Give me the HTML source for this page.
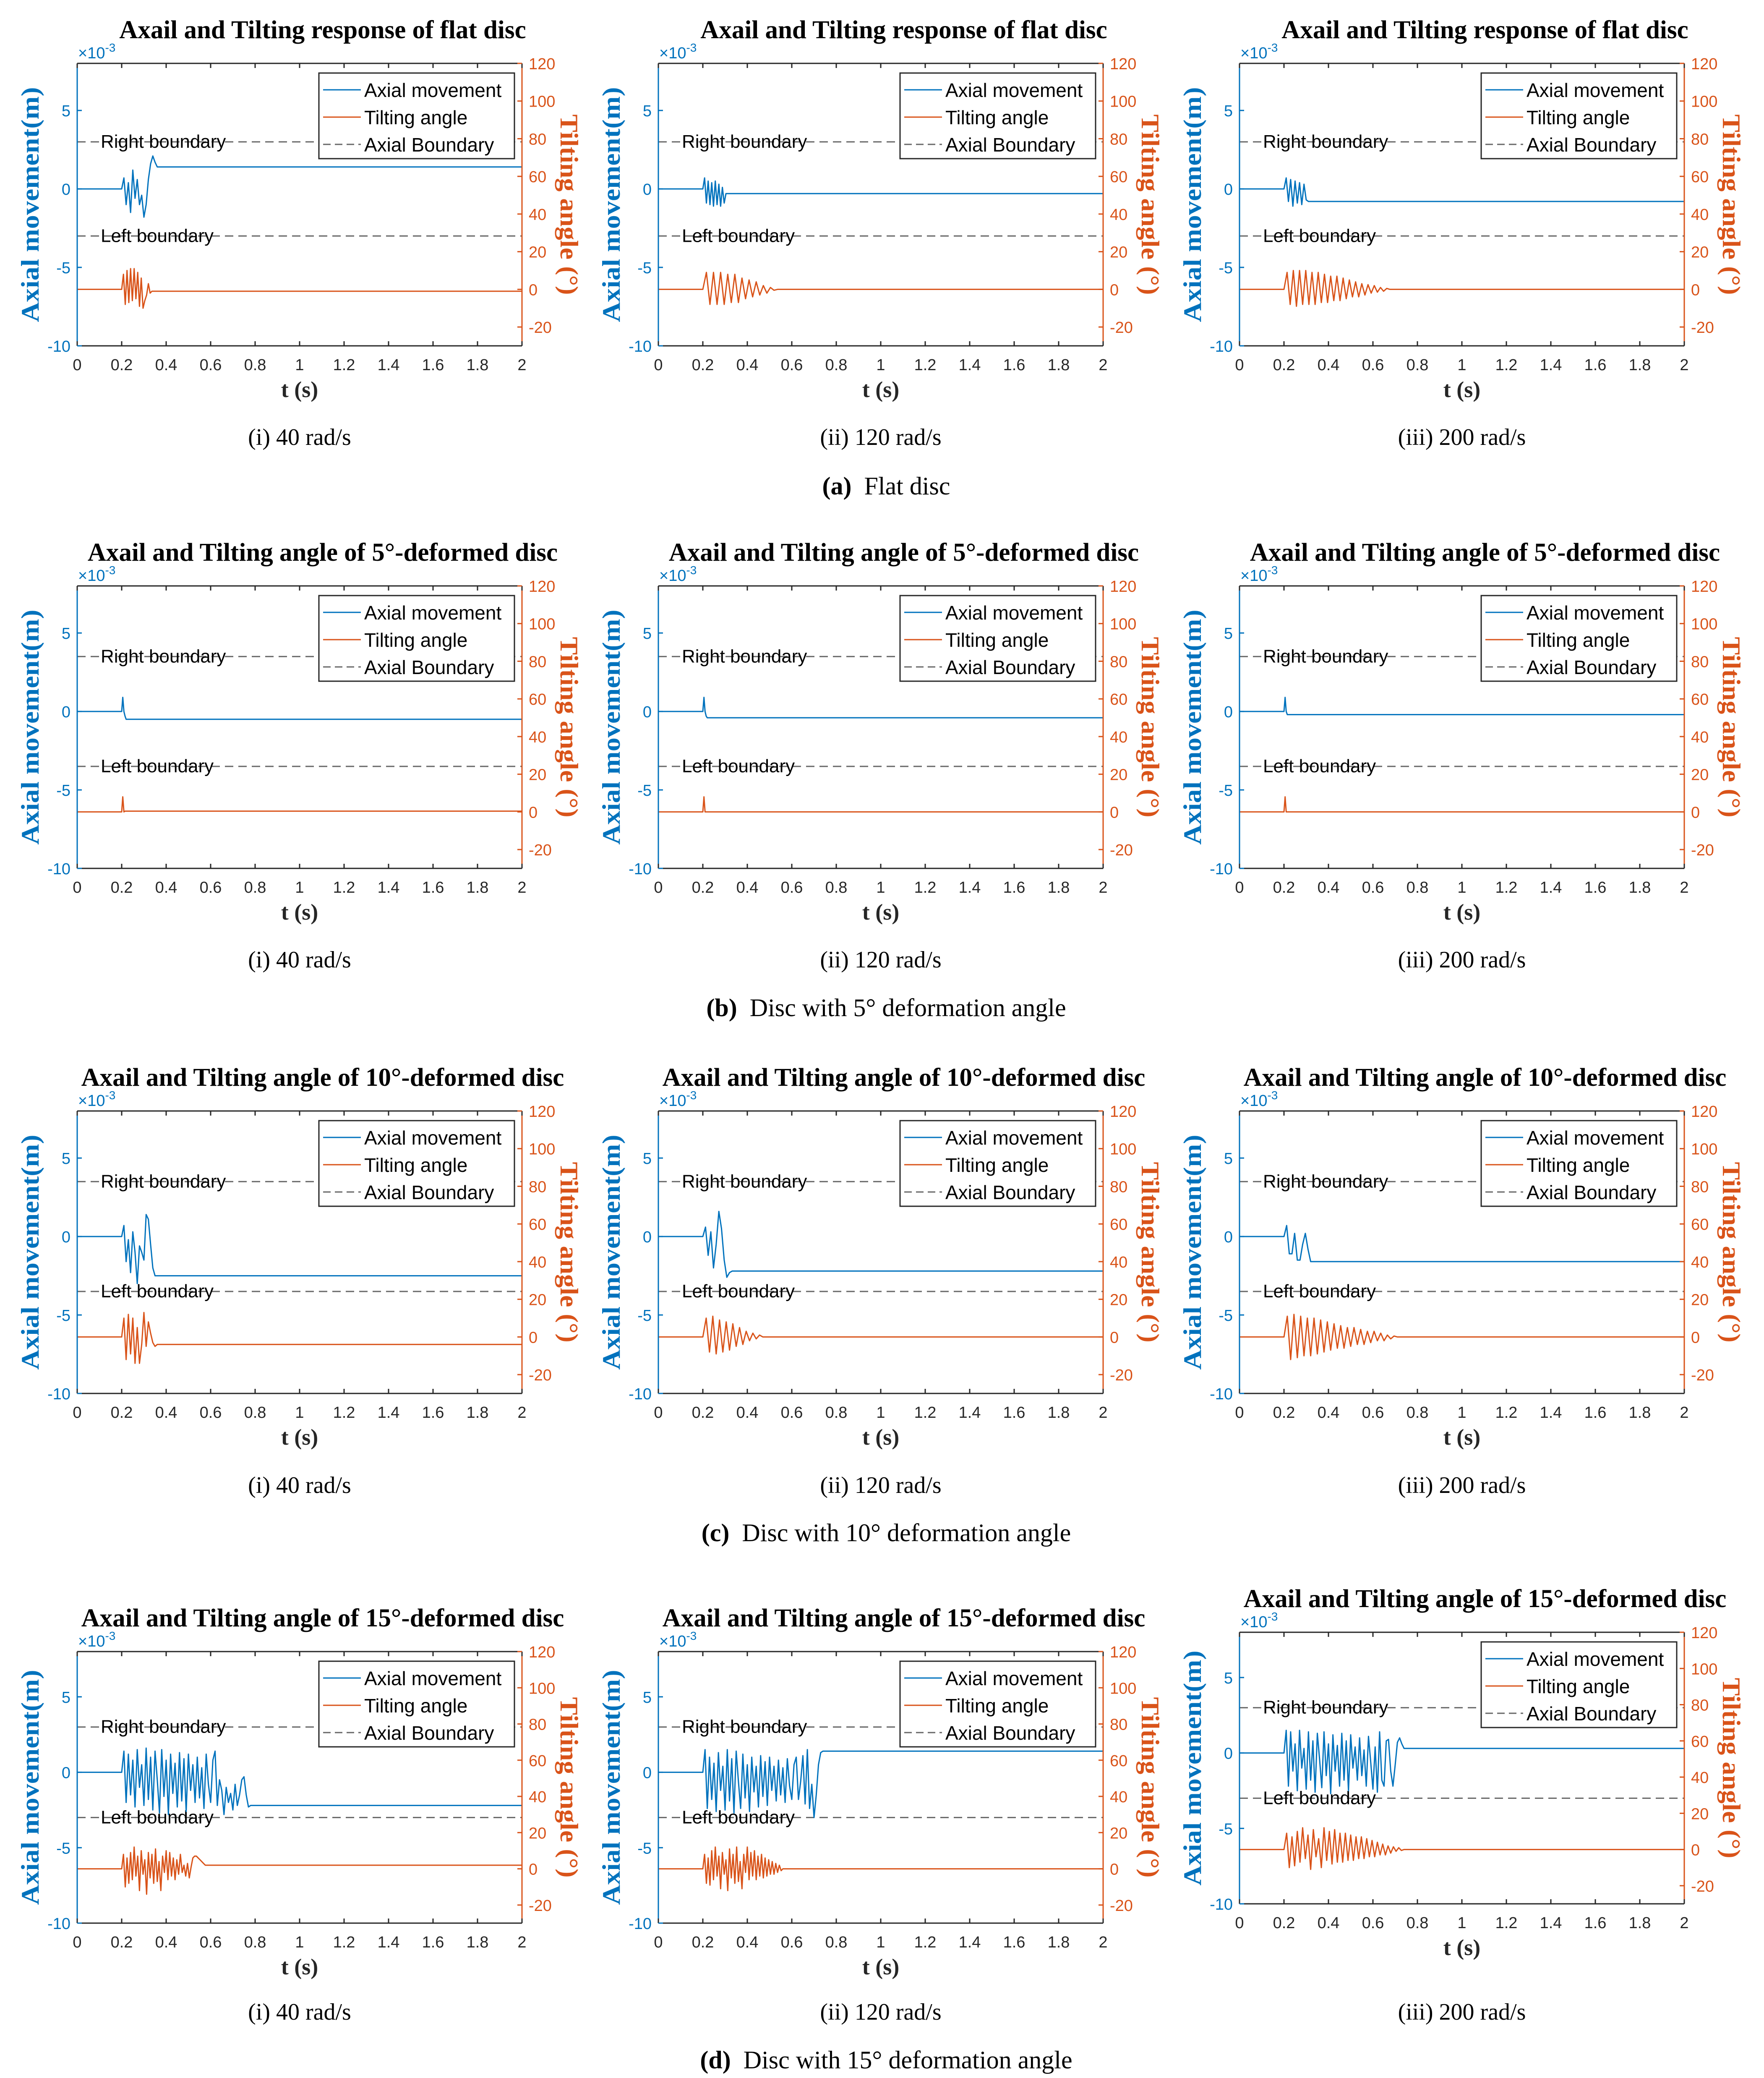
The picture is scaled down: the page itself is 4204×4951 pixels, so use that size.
<!DOCTYPE html>
<html><head><meta charset="utf-8">
<style>
html,body{margin:0;padding:0;background:#fff;}
svg{display:block;}
</style></head>
<body>
<svg id="fig" width="4204" height="4951" viewBox="0 0 4204 4951" xmlns="http://www.w3.org/2000/svg"></svg>
<script>
// ---------- data (axial in 1e-3 m, tilt in degrees), samples start at t=0.2 s ----------
const speeds = ["(i) 40 rad/s","(ii) 120 rad/s","(iii) 200 rad/s"];
const xTicks = [0,0.2,0.4,0.6,0.8,1,1.2,1.4,1.6,1.8,2];
const xTickLabels = ["0","0.2","0.4","0.6","0.8","1","1.2","1.4","1.6","1.8","2"];
const yLeftTicks = [-10,-5,0,5];
const yRightTicks = [-20,0,20,40,60,80,100,120];
const boundaries = [3,3.5,3.5,3];
const rowTitles = ["Axail and Tilting response of flat disc","Axail and Tilting angle of 5°-deformed disc","Axail and Tilting angle of 10°-deformed disc","Axail and Tilting angle of 15°-deformed disc"];
const captionLabels = ["(a)","(b)","(c)","(d)"];
const captionTexts = ["Flat disc","Disc with 5° deformation angle","Disc with 10° deformation angle","Disc with 15° deformation angle"];

// sample spacing per panel (s): [row][col]
const axDt = [[0.01,0.008,0.01],[0.005,0.005,0.005],[0.01,0.012,0.012],[0.01,0.01,0.01]];
const tiDt = [[0.008,0.016,0.014],[0.005,0.005,0.005],[0.01,0.015,0.015],[0.008,0.008,0.012]];

const axA1 = [0,0.7,-1.0,0.4,-1.5,1.2,-0.6,0.6,-1.0,-0.4,-1.8,-1.0,0.6,1.6,2.1,1.7,1.4,1.4];
const axA2 = [0,0.7,-0.9,0.5,-1.0,0.4,-1.1,0.5,-1.0,0.3,-1.1,0.1,-0.9,-0.3,-0.3];
const axA3 = [0,0.7,-0.8,0.6,-1.1,0.5,-0.9,0.4,-1.0,0.3,-0.7,-0.8,-0.8];
const tiA1 = [0,8,-8,10,-7,11,-6,11,-5,9,-9,6,-10,-6,-3,3,-2,-1,-1];
const tiA2 = [0,9,-8,9,-8,9,-8,8,-7,8,-7,6,-5,5,-4,4,-3,2,-2,1,-0.5,0,0];
const tiA3 = [0,9,-8,10,-9,10,-8,10,-8,9,-8,9,-7,8,-7,7,-6,7,-6,6,-5,5,-4,4,-4,3,-3,2.5,-2,2,-1.5,1,-1,0.5,0,0];

const axB1 = [0,0.9,0,-0.3,-0.5,-0.5];
const axB2 = [0,0.9,0,-0.3,-0.4,-0.4];
const axB3 = [0,0.9,0,-0.2,-0.2];
const tiB1 = [0,8,0,0.4,0.4];
const tiB2 = [0,8,0,0,0];
const tiB3 = [0,8,0,0,0];

const axC1 = [0,0.7,-1.6,-0.2,-2.3,0.3,-1.0,-3.0,-0.6,-1.0,-1.5,1.4,1.1,-0.5,-2.0,-2.5,-2.5];
const axC2 = [0,0.6,-1.2,0.3,-2.0,-0.5,1.6,0.5,-1.5,-2.6,-2.3,-2.2];
const axC3 = [0,0.7,-1.1,-1.1,0.2,-1.5,-1.5,-0.5,0.2,-0.8,-1.6,-1.6];
const tiC1 = [0,10,-12,12,-9,10,-14,5,-14,-4,13,-5,8,2,-3,-5,-4];
const tiC2 = [0,10,-8,11,-9,9,-8,8,-7,7,-5,5,-4,3,-2,2,-1,1,0,0];
const tiC3 = [0,11,-12,12,-11,11,-10,10,-10,10,-9,9,-8,8,-7,7,-6,6,-6,5,-5,5,-4,4,-4,3,-3,3,-2,2,-2,1,-1,0.5,0,0];

const axD1 = [0,1.4,-2,1.2,-1.5,0.8,-2.3,1.5,-1,0.5,-2.2,1.6,-1.8,1,-2.5,1.4,-0.5,-2.7,1.5,-1.6,0.8,-2.8,1.2,-1.4,0.6,-2.3,1.3,-1.9,0.9,-2.6,1.2,-1.2,0.5,-2,1,-1.7,0.3,-2.4,1.2,-0.8,-2,0.8,1.4,-2.2,-0.5,-1.2,-2.8,-1,-2,-1.4,-2.5,-0.8,-2.2,-1.5,-0.5,-0.3,-1.5,-2.3,-2.2,-2.2];
const axD2 = [0,1.5,-2.4,1,-1.8,0.6,-2.6,1.3,-1.2,0.4,-2.5,1.5,-1.9,0.9,-2.7,1.4,-0.6,-2.4,1.2,-1.7,0.5,-2.6,1,-1.3,0.4,-2.3,1.1,-1.6,0.7,-2.2,1,-1.2,0.4,-1.9,0.8,-1.5,0.3,-2,0.9,-0.9,-1.8,0.5,1.0,-1.8,-0.6,1.1,-2.1,1.5,-2.4,-0.8,-3.0,-1.5,0.5,1.3,1.4,1.4];
const axD3 = [0,1.5,-2.2,1.4,-1.2,0.6,-2.5,1.5,-1,0.3,-2.4,1.4,-1.8,0.8,-2.6,1.3,-0.4,-2.3,1.4,-1.5,0.6,-2.7,1.2,-1.2,0.5,-2.2,1.3,-1.8,0.8,-2.5,1.2,-1.0,0.4,-1.8,1.0,-1.5,0.2,-2.2,1.1,-0.6,-2.4,0.4,-2.6,1.4,-1.8,-2.2,0.8,0.9,-1.2,-2.2,-0.8,0.7,1.0,0.6,0.3,0.3];
const tiD1 = [0,8,-10,6,-8,9,-6,12,-4,7,-12,10,-3,5,-14,9,-5,8,-8,11,-7,4,-12,7,-2,10,-6,9,-4,6,-6,5,-3,8,-2,2,-4,3,-5,1,6,7,7,6,5,4,3,2,2];
const tiD2 = [0,8,-8,6,-9,10,-6,12,-4,7,-11,9,-3,5,-12,11,-5,8,-8,12,-7,4,-11,8,-2,12,-6,9,-4,10,-6,7,-4,8,-5,6,-4,5,-3,4,-3,3,-2,2,-1,0,0];
const tiD3 = [0,9,-10,7,-9,10,-7,12,-5,8,-11,11,-4,6,-10,12,-6,10,-8,11,-7,9,-7,9,-6,8,-6,7,-5,7,-5,6,-4,5,-4,4,-3,3,-3,2,-2,1.5,-1,1,-0.5,0,0];

const axialSeries = [[axA1,axA2,axA3],[axB1,axB2,axB3],[axC1,axC2,axC3],[axD1,axD2,axD3]];
const tiltSeries  = [[tiA1,tiA2,tiA3],[tiB1,tiB2,tiB3],[tiC1,tiC2,tiC3],[tiD1,tiD2,tiD3]];

// ---------- layout ----------
const NS = "http://www.w3.org/2000/svg";
const svg = document.getElementById('fig');
const BLUE = "#0072BD", ORANGE = "#D95319", DARK = "#262626";
const colX = [184, 1569, 2954];
const W = 1060;
const rowTop = [[151,151,151],[1396,1396,1396],[2647,2647,2647],[3935,3935,3889]];
const rowH = [673,673,673,647];
const subY = [1060,2305,3557,4812];
const capY = [1178,2421,3672,4928];

function el(tag, attrs, parent, text){
  const e = document.createElementNS(NS, tag);
  for (const k in attrs) e.setAttribute(k, attrs[k]);
  if (text !== undefined) e.textContent = text;
  (parent || svg).appendChild(e);
  return e;
}

function panel(r, c){
  const x0 = colX[c], y0 = rowTop[r][c], h = rowH[r];
  const g = el('g', {});
  
  
  const xs = t => x0 + t / 2 * W;
  const yl = v => y0 + (8 - v) / 18 * h;
  const yr = v => y0 + (120 - v) / 150 * h;

  const tt = el('text', {x: x0 + W/2 + 55, y: y0 - 60, 'text-anchor':'middle', 'font-family':'"Liberation Serif", serif', 'font-weight':'bold', 'font-size': 61, fill:'#000'}, g, rowTitles[r]);
  
  

  const ex = el('text', {x: x0 + 2, y: y0 - 12, 'font-family':'"Liberation Sans", sans-serif', 'font-size': 38, fill: BLUE}, g);
  
  
  ex.textContent = "×10";
  el('tspan', {dy: -16, 'font-size': 28}, ex, "-3");

  const b = boundaries[r];
  [b, -b].forEach((v, i) => {
    const ln = el('line', {x1: x0, x2: x0 + W, y1: yl(v), y2: yl(v), stroke:'#666', 'stroke-width': 3, 'stroke-dasharray':'20 12'}, g);
    
    
    const lt = el('text', {x: x0 + 56, y: yl(v) + 14, 'font-family':'"Liberation Sans", sans-serif', 'font-size': 44, fill:'#000'}, g, i === 0 ? 'Right boundary' : 'Left boundary');
    
    
  });

  function series(vals, dt, yf, color, name){
    let pts = [[xs(0), yf(0)]];
    vals.forEach((v, i) => pts.push([xs(0.2 + i * dt), yf(v)]));
    pts.push([xs(2), yf(vals[vals.length - 1])]);
    const p = el('polyline', {points: pts.map(p => p[0].toFixed(1) + ',' + p[1].toFixed(1)).join(' '), fill:'none', stroke: color, 'stroke-width': 3, 'stroke-linejoin':'round'}, g);
    
    
  }
  series(axialSeries[r][c], axDt[r][c], yl, BLUE, 'axial-movement-line');
  series(tiltSeries[r][c], tiDt[r][c], yr, ORANGE, 'tilting-angle-line');

  el('line', {x1:x0, x2:x0+W, y1:y0, y2:y0, stroke:DARK, 'stroke-width':3}, g);
  el('line', {x1:x0, x2:x0+W, y1:y0+h, y2:y0+h, stroke:DARK, 'stroke-width':3}, g);
  el('line', {x1:x0, x2:x0, y1:y0, y2:y0+h, stroke:BLUE, 'stroke-width':3}, g);
  el('line', {x1:x0+W, x2:x0+W, y1:y0, y2:y0+h, stroke:ORANGE, 'stroke-width':3}, g);

  xTicks.forEach((t, i) => {
    el('line', {x1:xs(t), x2:xs(t), y1:y0+h, y2:y0+h-11, stroke:DARK, 'stroke-width':3}, g);
    el('line', {x1:xs(t), x2:xs(t), y1:y0, y2:y0+11, stroke:DARK, 'stroke-width':3}, g);
    const tl = el('text', {x: xs(t), y: y0 + h + 58, 'text-anchor':'middle', 'font-family':'"Liberation Sans", sans-serif', 'font-size': 38, fill: DARK}, g, xTickLabels[i]);
    
    
  });
  const xl = el('text', {x: x0 + W/2, y: y0 + h + 122, 'text-anchor':'middle', 'font-family':'"Liberation Serif", serif', 'font-weight':'bold', 'font-size': 54, fill: DARK}, g, 't (s)');
  
  

  yLeftTicks.forEach(v => {
    el('line', {x1:x0, x2:x0+11, y1:yl(v), y2:yl(v), stroke:BLUE, 'stroke-width':3}, g);
    const tl = el('text', {x: x0 - 16, y: yl(v) + 14, 'text-anchor':'end', 'font-family':'"Liberation Sans", sans-serif', 'font-size': 38, fill: BLUE}, g, String(v));
    
    
  });
  yRightTicks.forEach(v => {
    el('line', {x1:x0+W, x2:x0+W-11, y1:yr(v), y2:yr(v), stroke:ORANGE, 'stroke-width':3}, g);
    const tl = el('text', {x: x0 + W + 16, y: yr(v) + 14, 'font-family':'"Liberation Sans", sans-serif', 'font-size': 38, fill: ORANGE}, g, String(v));
    
    
  });

  const cyl = y0 + h/2;
  const ylab = el('text', {x: 0, y: 0, transform: 'translate(' + (x0 - 92) + ',' + cyl + ') rotate(-90)', 'text-anchor':'middle', 'font-family':'"Liberation Serif", serif', 'font-weight':'bold', 'font-size': 60, fill: BLUE, textLength: 560, lengthAdjust:'spacingAndGlyphs'}, g, 'Axial movement(m)');
  
  
  const rlab = el('text', {x: 0, y: 0, transform: 'translate(' + (x0 + W + 92) + ',' + cyl + ') rotate(90)', 'text-anchor':'middle', 'font-family':'"Liberation Serif", serif', 'font-weight':'bold', 'font-size': 60, fill: ORANGE, textLength: 430, lengthAdjust:'spacingAndGlyphs'}, g, 'Tilting angle (°)');
  
  

  const lx = x0 + W - 484, ly = y0 + 23;
  const lg = el('g', {}, g);
  
  
  el('rect', {x: lx, y: ly, width: 466, height: 204, fill:'#fff', stroke: DARK, 'stroke-width': 3}, lg);
  const entries = [['Axial movement', BLUE, ''], ['Tilting angle', ORANGE, ''], ['Axial Boundary', '#666', '18 10']];
  entries.forEach((e, i) => {
    const cy = ly + 40 + i * 65;
    const le = el('g', {}, lg);
    
    
    const a = {x1: lx + 10, x2: lx + 100, y1: cy, y2: cy, stroke: e[1], 'stroke-width': 3};
    if (e[2]) a['stroke-dasharray'] = e[2];
    el('line', a, le);
    el('text', {x: lx + 108, y: cy + 17, 'font-family':'"Liberation Sans", sans-serif', 'font-size': 46, fill:'#000'}, le, e[0]);
  });

  const sc = el('text', {x: x0 + W/2, y: subY[r], 'text-anchor':'middle', 'font-family':'"Liberation Serif", serif', 'font-size': 56, fill:'#000'}, g, speeds[c]);
  
  
}

for (let r = 0; r < 4; r++){
  for (let c = 0; c < 3; c++) panel(r, c);
  const cap = el('text', {x: 2112, y: capY[r], 'text-anchor':'middle', 'font-family':'"Liberation Serif", serif', 'font-size': 60, fill:'#000'});
  
  
  el('tspan', {'font-weight':'bold'}, cap, captionLabels[r]);
  el('tspan', {}, cap, '\u00a0\u00a0' + captionTexts[r]);
}
</script>
</body></html>
